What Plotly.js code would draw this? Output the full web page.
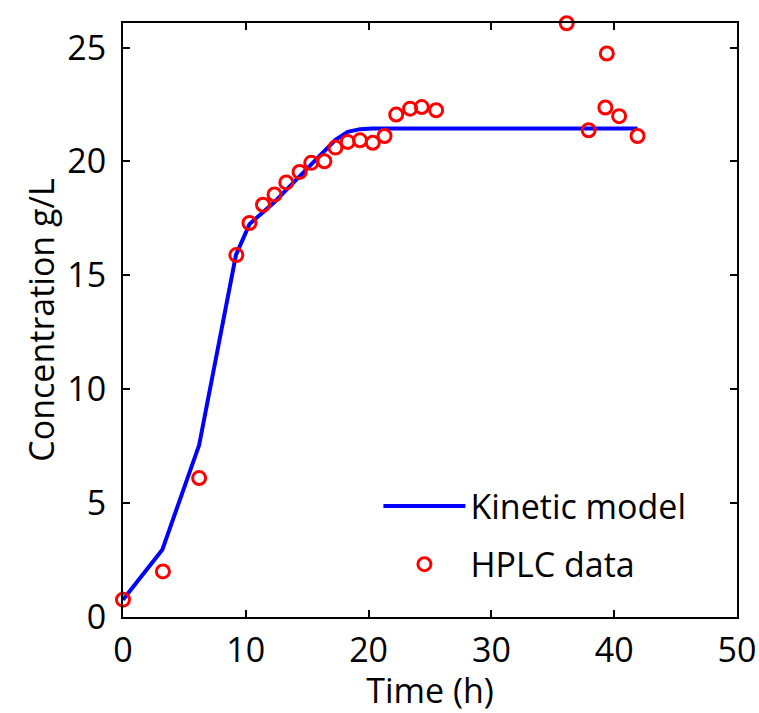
<!DOCTYPE html>
<html>
<head>
<meta charset="utf-8">
<script src="https://cdn.plot.ly/plotly-3.0.1.min.js"></script>
<style>html,body{margin:0;padding:0;background:#fff;}#chart{width:759px;height:713px;}</style>
</head>
<body>
<div id="chart"></div>
<script>
// HPLC data (time h, concentration g/L)
const hplcTime = [0, 3.25, 6.2, 9.23, 10.3, 11.4, 12.34, 13.3, 14.38, 15.33, 16.4, 17.3, 18.3, 19.3, 20.34, 21.3, 22.25, 23.38, 24.33, 25.5, 36.13, 37.92, 39.28, 39.4, 40.4, 41.9];
const hplcConc = [0.76, 2.0, 6.1, 15.89, 17.3, 18.1, 18.55, 19.08, 19.54, 19.94, 20.01, 20.61, 20.86, 20.93, 20.82, 21.12, 22.06, 22.32, 22.39, 22.25, 26.07, 21.37, 22.37, 24.74, 21.99, 21.12];
// Kinetic model curve
const modelTime = [0, 3.2, 6.2, 9.2, 10.3, 11.4, 12.3, 13.3, 14.4, 15.3, 16.4, 17.3, 18.3, 19.3, 20.3, 21.3, 41.9];
const modelConc = [0.76, 2.95, 7.55, 15.9, 17.25, 17.75, 18.2, 18.75, 19.35, 19.9, 20.45, 20.95, 21.3, 21.42, 21.45, 21.45, 21.45];
const xTicks = [0, 10, 20, 30, 40, 50];
const yTicks = [0, 5, 10, 15, 20, 25];

const FONT = "Open Sans, sans-serif";
const traces = [
  {x: modelTime, y: modelConc, mode: 'lines', name: 'Kinetic model',
   line: {color: '#0000ff', width: 4}, legendgroup: 'a'},
  {x: hplcTime, y: hplcConc, mode: 'markers', name: 'HPLC data',
   marker: {symbol: 'circle-open', size: 13, color: '#ff0000', line: {width: 3, color: '#ff0000'}},
   legendgroup: 'b', cliponaxis: false}
];
const axisCommon = {
  showline: true, linecolor: '#000', linewidth: 2, mirror: 'ticks',
  ticks: 'inside', ticklen: 7, tickwidth: 2, tickcolor: '#000',
  showgrid: false, zeroline: false,
  tickfont: {family: FONT, size: 34, color: '#000'}
};
const layout = {
  width: 759, height: 713,
  margin: {l: 123, r: 22, t: 23, b: 96},
  paper_bgcolor: '#fff', plot_bgcolor: '#fff',
  font: {family: FONT, color: '#000'},
  xaxis: Object.assign({}, axisCommon, {
    range: [0, 50], tickvals: xTicks, ticktext: xTicks.map(String), ticklabelstandoff: 2,
    title: {text: 'Time (h)', font: {family: FONT, size: 34, color: '#000'}, standoff: 2}
  }),
  yaxis: Object.assign({}, axisCommon, {
    range: [0, 26.08], tickvals: yTicks, ticktext: yTicks.map(String), ticklabelstandoff: 8,
    title: {text: 'Concentration g/L', font: {family: FONT, size: 34, color: '#000'}, standoff: 2}
  }),
  showlegend: true,
  legend: {x: 0.416, y: 0.235, xanchor: 'left', yanchor: 'top', bgcolor: 'rgba(0,0,0,0)',
    font: {family: FONT, size: 34, color: '#000'}, itemwidth: 82, tracegroupgap: 11, borderwidth: 0}
};
Plotly.newPlot('chart', traces, layout, {displayModeBar: false, staticPlot: true});
</script>
</body>
</html>
